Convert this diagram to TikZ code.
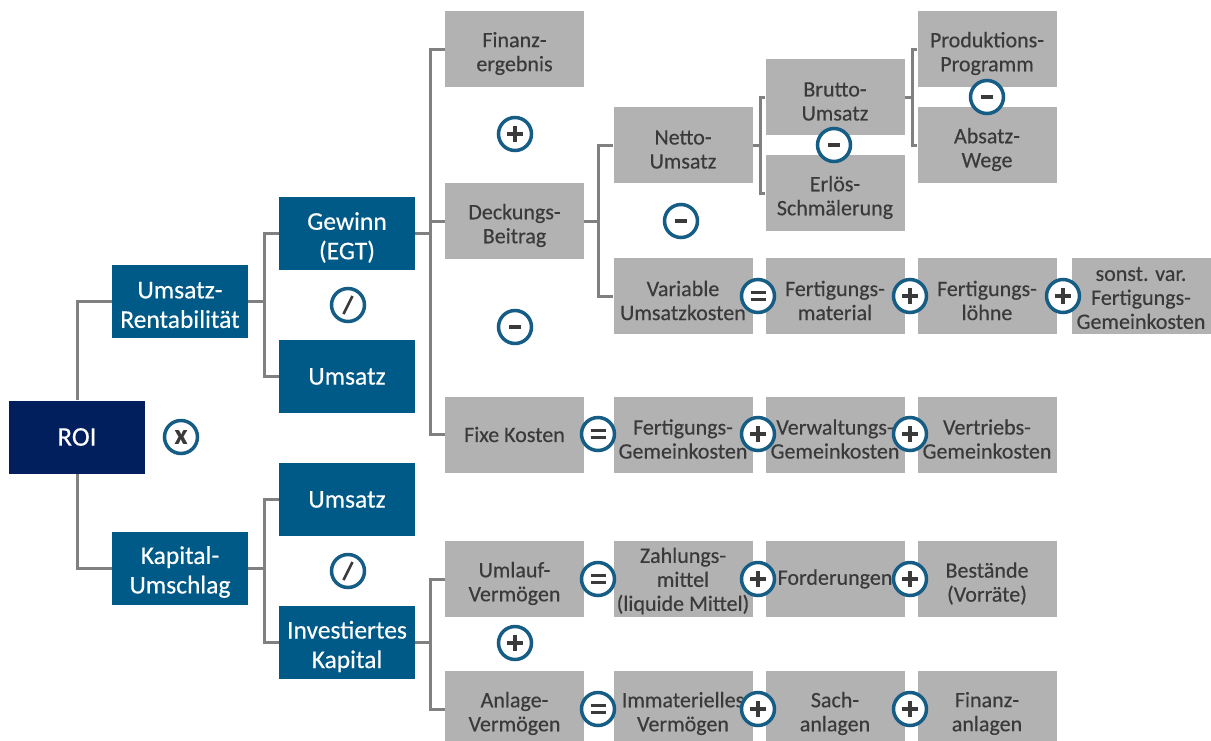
\documentclass[tikz,border=0pt]{standalone}
\usepackage{fontspec}
\setmainfont{Carlito}[FakeBold=0.35]
\definecolor{roiblue}{HTML}{001F5C}
\definecolor{midblue}{HTML}{005A87}
\definecolor{boxgrey}{HTML}{B2B2B2}
\definecolor{txtgrey}{HTML}{3A3A3A}
\definecolor{linegrey}{HTML}{808080}
\definecolor{ringblue}{HTML}{165D86}
% grey box: [text shift]{name}{position}{text}
\newcommand\gb[4][-4.5pt]{\node[gbox,label={[gt,yshift=#1]center:{#4}}] (#2) at (#3) {};}
% blue box
\newcommand\bb[4][-4pt]{\node[bbox,label={[bt,yshift=#1]center:{#4}}] (#2) at (#3) {};}
\begin{document}
\begin{tikzpicture}[x=1pt,y=-1pt,
 gbox/.style={fill=boxgrey,minimum width=139pt,minimum height=76pt,inner sep=0pt},
 gt/.style={align=center,inner sep=0pt,text=txtgrey,font=\fontsize{22}{24}\selectfont},
 bbox/.style={fill=midblue,minimum width=136pt,minimum height=73pt,inner sep=0pt},
 bt/.style={align=center,inner sep=0pt,text=white,font=\fontsize{25.5}{29.5}\selectfont},
 conn/.style={draw=linegrey,line width=3pt},
 sym/.style={draw=txtgrey,line width=4pt},
 op/.style={circle,draw=ringblue,line width=3.5pt,fill=white,minimum size=33pt,inner sep=0pt,text=txtgrey,font=\fontsize{28}{28}\selectfont\bfseries},
 opplus/.style={op,path picture={\draw[sym] (path picture bounding box.center) ++(-8,0) -- ++(16,0) (path picture bounding box.center) ++(0,-8) -- ++(0,16);}},
 opminus/.style={op,path picture={\draw[sym,line width=4.5pt] (path picture bounding box.center) ++(-6,0) -- ++(12,0);}},
 opeq/.style={op,path picture={\draw[sym,line width=3.5pt] (path picture bounding box.center) ++(-7.5,-3.5) -- ++(15,0) (path picture bounding box.center) ++(-7.5,3.5) -- ++(15,0);}},
 opdiv/.style={op,path picture={\draw[sym,line width=2.5pt] (path picture bounding box.center) ++(-4.5,9) -- ++(9,-18);}}
]
\useasboundingbox (0,0) rectangle (1211,740);
\fill[white] (0,0) rectangle (1211,740);

% blue boxes
\node[bbox,fill=roiblue,text=white,font=\fontsize{27}{30}\selectfont] (roi) at (77,437) {ROI};
\bb{ur}{180,301}{Umsatz-\\Rentabilität}
\bb{gew}{347,233.5}{Gewinn\\(EGT)}
\bb[0pt]{ums1}{347,376.5}{Umsatz}
\bb[0pt]{ums2}{347,499.5}{Umsatz}
\bb{ku}{180,568}{Kapital-\\Umschlag}
\bb{ik}{347,642.5}{Investiertes\\Kapital}

% grey boxes column 1
\gb{fin}{514.5,49}{Finanz-\\ergebnis}
\gb{deck}{514.5,221}{Deckungs-\\Beitrag}
\gb[0pt]{fix}{514.5,434.5}{Fixe Kosten}
\gb{uv}{514.5,579}{Umlauf-\\Vermögen}
\gb{av}{514.5,709}{Anlage-\\Vermögen}
% column 2
\gb{netto}{683,145}{Netto-\\Umsatz}
\gb{var}{683,296}{Variable\\Umsatzkosten}
\gb{fgk}{683,434.5}{Fertigungs-\\Gemeinkosten}
\gb[-2pt]{zm}{683,579}{Zahlungs-\\mittel\\(liquide Mittel)}
\gb{imm}{683,709}{Immaterielles\\Vermögen}
% column 3
\gb{brutto}{835,97}{Brutto-\\Umsatz}
\gb{erl}{835,193}{Erlös-\\Schmälerung}
\gb{fm}{835,296}{Fertigungs-\\material}
\gb{vgk}{835,434.5}{Verwaltungs-\\Gemeinkosten}
\gb[0pt]{ford}{835,579}{Forderungen}
\gb{sach}{835,709}{Sach-\\anlagen}
% column 4
\gb{prod}{987,49}{Produktions-\\Programm}
\gb{abs}{987,145}{Absatz-\\Wege}
\gb{fl}{987,296}{Fertigungs-\\löhne}
\gb{vtk}{987,434.5}{Vertriebs-\\Gemeinkosten}
\gb{best}{987,579}{Bestände\\(Vorräte)}
\gb{fina}{987,709}{Finanz-\\anlagen}
% column 5
\gb[-2pt]{sonst}{1141,296}{sonst. var.\\Fertigungs-\\Gemeinkosten}

% connectors
\draw[conn] (roi.north) |- (ur.west);
\draw[conn] (roi.south) |- (ku.west);
\draw[conn] (ur.east) -- ++(16,0) coordinate (j1);
\draw[conn] (gew.west) -| (j1) |- (ums1.west);
\draw[conn] (ku.east) -- ++(16,0) coordinate (j2);
\draw[conn] (ums2.west) -| (j2) |- (ik.west);
\draw[conn] (gew.east) -- ++(15,0) coordinate (j3);
\draw[conn] (fin.west) -| (j3) |- (fix.west);
\draw[conn] (deck.west) -- (deck.west -| j3);
\draw[conn] (deck.east) -- ++(14,0) coordinate (j4);
\draw[conn] (netto.west) -| (j4) |- (var.west);
\draw[conn] (netto.east) -- ++(8,0) coordinate (j5);
\draw[conn] (brutto.west) -| (j5) |- (erl.west);
\draw[conn] (brutto.east) -- ++(8,0) coordinate (j6);
\draw[conn] (prod.west) -| (j6) |- (abs.west);
\draw[conn] (ik.east) -- ++(15,0) coordinate (j7);
\draw[conn] (uv.west) -| (j7) |- (av.west);

% operators
\node[op] (o1) at (181,437) {x};
\node[opdiv] (o2) at (348,305) {};
\node[opdiv] (o3) at (348,571) {};
\node[opplus] (o4) at (515,134) {};
\node[opminus] (o5) at (515,327) {};
\node[opminus] (o6) at (681,221) {};
\node[opminus] (o7) at (834,145) {};
\node[opminus] (o8) at (987,97) {};
\node[opeq] (o9) at (758,296) {};
\node[opplus] (o10) at (910,296) {};
\node[opplus] (o11) at (1063,296) {};
\node[opeq] (o12) at (598,434) {};
\node[opplus] (o13) at (758,434) {};
\node[opplus] (o14) at (910,434) {};
\node[opeq] (o15) at (598,579) {};
\node[opplus] (o16) at (758,579) {};
\node[opplus] (o17) at (910,579) {};
\node[opplus] (o18) at (515,643) {};
\node[opeq] (o19) at (598,709) {};
\node[opplus] (o20) at (758,709) {};
\node[opplus] (o21) at (910,709) {};
\end{tikzpicture}
\end{document}
